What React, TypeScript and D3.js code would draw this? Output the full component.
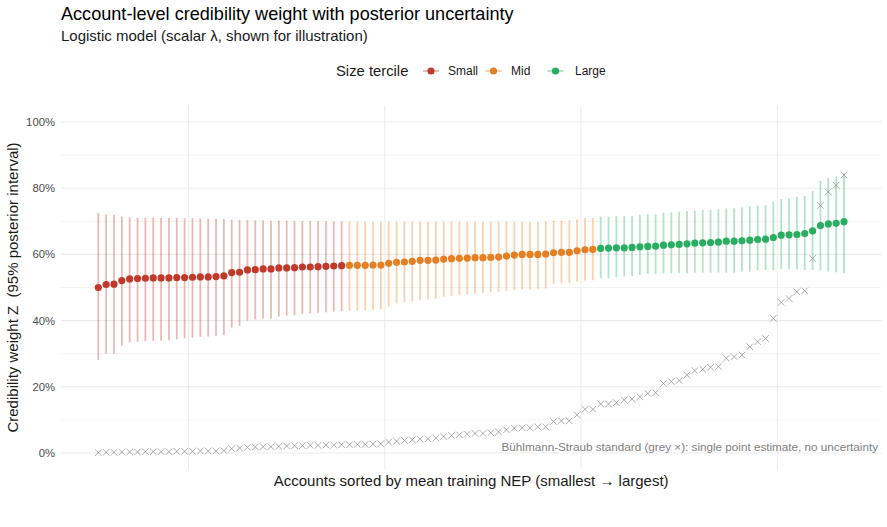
import React from "react";
import * as d3 from "d3";

// Posterior credibility weight per account, grouped by size tercile.
// Accounts are ordered by mean training NEP (smallest → largest).
const smallMean = [0.500, 0.509, 0.510, 0.521, 0.526, 0.527, 0.528, 0.529, 0.529, 0.529, 0.530, 0.530, 0.531, 0.532, 0.532, 0.533, 0.535, 0.545, 0.546, 0.553, 0.554, 0.556, 0.556, 0.559, 0.559, 0.560, 0.562, 0.562, 0.563, 0.564, 0.565, 0.566];
const smallLower = [0.281, 0.300, 0.300, 0.324, 0.334, 0.336, 0.337, 0.338, 0.339, 0.341, 0.343, 0.346, 0.348, 0.351, 0.352, 0.354, 0.356, 0.379, 0.384, 0.400, 0.403, 0.406, 0.406, 0.412, 0.415, 0.417, 0.420, 0.422, 0.424, 0.425, 0.427, 0.428];
const smallUpper = [0.725, 0.721, 0.720, 0.714, 0.712, 0.711, 0.711, 0.711, 0.710, 0.710, 0.710, 0.709, 0.709, 0.708, 0.708, 0.708, 0.707, 0.705, 0.704, 0.704, 0.703, 0.703, 0.702, 0.702, 0.702, 0.701, 0.701, 0.701, 0.700, 0.700, 0.700, 0.700];

const midMean = [0.567, 0.567, 0.567, 0.568, 0.568, 0.573, 0.576, 0.577, 0.579, 0.582, 0.582, 0.583, 0.586, 0.587, 0.588, 0.589, 0.590, 0.590, 0.591, 0.592, 0.595, 0.598, 0.600, 0.600, 0.600, 0.601, 0.605, 0.606, 0.606, 0.611, 0.614, 0.615];
const midLower = [0.429, 0.429, 0.432, 0.433, 0.434, 0.442, 0.452, 0.455, 0.459, 0.462, 0.464, 0.466, 0.472, 0.475, 0.477, 0.479, 0.482, 0.484, 0.485, 0.487, 0.489, 0.492, 0.494, 0.494, 0.496, 0.497, 0.510, 0.512, 0.514, 0.518, 0.521, 0.522];
const midUpper = [0.699, 0.699, 0.699, 0.699, 0.699, 0.699, 0.699, 0.699, 0.699, 0.699, 0.699, 0.699, 0.699, 0.699, 0.699, 0.699, 0.699, 0.699, 0.699, 0.699, 0.699, 0.699, 0.699, 0.699, 0.699, 0.700, 0.702, 0.702, 0.703, 0.706, 0.709, 0.710];

const largeMean = [0.618, 0.619, 0.620, 0.620, 0.621, 0.623, 0.624, 0.625, 0.628, 0.629, 0.630, 0.632, 0.634, 0.635, 0.636, 0.637, 0.640, 0.640, 0.641, 0.643, 0.645, 0.646, 0.651, 0.658, 0.659, 0.660, 0.663, 0.671, 0.687, 0.692, 0.694, 0.699];
const largeLower = [0.528, 0.528, 0.531, 0.533, 0.535, 0.538, 0.541, 0.541, 0.543, 0.543, 0.543, 0.543, 0.545, 0.545, 0.545, 0.545, 0.545, 0.545, 0.548, 0.548, 0.551, 0.553, 0.553, 0.555, 0.555, 0.555, 0.553, 0.553, 0.551, 0.548, 0.546, 0.543];
const largeUpper = [0.714, 0.714, 0.716, 0.716, 0.717, 0.719, 0.721, 0.721, 0.726, 0.727, 0.729, 0.731, 0.732, 0.734, 0.734, 0.736, 0.739, 0.739, 0.742, 0.746, 0.748, 0.749, 0.759, 0.767, 0.770, 0.774, 0.776, 0.792, 0.822, 0.832, 0.835, 0.845];

// Bühlmann-Straub credibility factor, one per account in the same order.
const bsStandard = [
  0.001, 0.002, 0.002, 0.003, 0.003, 0.003, 0.004, 0.004, 0.004, 0.004, 0.005, 0.005, 0.005, 0.006, 0.006, 0.006,
  0.007, 0.013, 0.015, 0.017, 0.018, 0.019, 0.019, 0.020, 0.021, 0.022, 0.022, 0.023, 0.023, 0.024, 0.024, 0.025,
  0.025, 0.026, 0.026, 0.027, 0.028, 0.033, 0.036, 0.038, 0.040, 0.042, 0.043, 0.045, 0.050, 0.053, 0.055, 0.057,
  0.059, 0.059, 0.061, 0.064, 0.070, 0.075, 0.076, 0.076, 0.079, 0.079, 0.095, 0.097, 0.097, 0.115, 0.132, 0.132,
  0.148, 0.148, 0.152, 0.160, 0.163, 0.170, 0.180, 0.182, 0.210, 0.216, 0.219, 0.236, 0.249, 0.253, 0.259, 0.261,
  0.286, 0.291, 0.296, 0.321, 0.336, 0.346, 0.407, 0.455, 0.467, 0.487, 0.490, 0.588, 0.748, 0.789, 0.809, 0.840,
];

const tercileNames = ["Small", "Mid", "Large"];
const tercileColors = ["#C0392B", "#E67E22", "#27AE60"];
const yTicks = [0, 0.2, 0.4, 0.6, 0.8, 1.0];
const yMinorTicks = [0.1, 0.3, 0.5, 0.7, 0.9];
const xMinorTicks = [12.5, 37.5, 62.5, 87.5];

type Account = { rank: number; tercile: number; mean: number; lower: number; upper: number; bs: number };

const groups = [
  { mean: smallMean, lower: smallLower, upper: smallUpper },
  { mean: midMean, lower: midLower, upper: midUpper },
  { mean: largeMean, lower: largeLower, upper: largeUpper },
];

const accounts: Account[] = [];
groups.forEach((g, t) => {
  g.mean.forEach((m, i) => {
    const rank = accounts.length + 1;
    accounts.push({ rank, tercile: t, mean: m, lower: g.lower[i], upper: g.upper[i], bs: bsStandard[rank - 1] });
  });
});

const W = 887;
const H = 527;
const FONT = "'Liberation Sans', Arial, Helvetica, sans-serif";

export default function App() {
  const n = accounts.length;
  const pad = (n - 1) * 0.05;
  const left = 61;
  const right = 881.3;
  const top = 105.45;
  const bottom = 469.55;

  const x = d3.scaleLinear().domain([1 - pad, n + pad]).range([left, right]);
  const y = d3.scaleLinear().domain([-0.05, 1.05]).range([bottom, top]);
  const pct = d3.format(".0%");

  const cross = 3.3;
  const gridColor = "#EBEBEB";

  // legend layout
  const legendY = 71;
  const legendItems = [
    { key: 431, label: 448 },
    { key: 493.5, label: 511 },
    { key: 555.5, label: 575 },
  ];

  return (
    <svg width={W} height={H} style={{ display: "block", position: "absolute", left: 0, top: 0 }} fontFamily={FONT}>
      <rect width={W} height={H} fill="#FFFFFF" />

      {/* grid */}
      {yMinorTicks.map((t) => (
        <line key={"ym" + t} x1={left} x2={right} y1={y(t)} y2={y(t)} stroke={gridColor} strokeWidth={0.6} />
      ))}
      {xMinorTicks.map((t) => (
        <line key={"xm" + t} x1={x(t)} x2={x(t)} y1={top} y2={bottom} stroke={gridColor} strokeWidth={1} />
      ))}
      {yTicks.map((t) => (
        <line key={"y" + t} x1={left} x2={right} y1={y(t)} y2={y(t)} stroke={gridColor} strokeWidth={1.1} />
      ))}

      {/* y tick labels */}
      {yTicks.map((t) => (
        <text key={"yl" + t} x={55} y={y(t)} dy="0.35em" textAnchor="end" fontSize={11.3} fill="#4D4D4D">
          {pct(t)}
        </text>
      ))}

      {/* posterior intervals */}
      {accounts.map((a) => (
        <line
          key={"iv" + a.rank}
          x1={x(a.rank)}
          x2={x(a.rank)}
          y1={y(a.lower)}
          y2={y(a.upper)}
          stroke={tercileColors[a.tercile]}
          strokeOpacity={0.35}
          strokeWidth={1.8}
        />
      ))}

      {/* Bühlmann-Straub point estimates */}
      {accounts.map((a) => {
        const cx = x(a.rank);
        const cy = y(a.bs);
        return (
          <path
            key={"bs" + a.rank}
            d={`M${cx - cross},${cy - cross}L${cx + cross},${cy + cross}M${cx - cross},${cy + cross}L${cx + cross},${cy - cross}`}
            stroke="#8C8C8C"
            strokeOpacity={0.8}
            strokeWidth={0.9}
            fill="none"
          />
        );
      })}

      {/* posterior means */}
      {accounts.map((a) => (
        <circle key={"pt" + a.rank} cx={x(a.rank)} cy={y(a.mean)} r={3.6} fill={tercileColors[a.tercile]} />
      ))}

      {/* annotation */}
      <text x={878} y={451} textAnchor="end" fontSize={11.7} fill="#808080">
        Bühlmann-Straub standard (grey ×): single point estimate, no uncertainty
      </text>

      {/* titles */}
      <text x={61} y={20} fontSize={18.1} fill="#000000">
        Account-level credibility weight with posterior uncertainty
      </text>
      <text x={61} y={41} fontSize={15} fill="#1A1A1A">
        Logistic model (scalar λ, shown for illustration)
      </text>

      {/* legend */}
      <text x={336} y={legendY} dy="0.35em" fontSize={14.8} fill="#1A1A1A">
        Size tercile
      </text>
      {legendItems.map((li, i) => (
        <g key={"lg" + i}>
          <line
            x1={li.key - 8}
            x2={li.key + 8}
            y1={legendY}
            y2={legendY}
            stroke={tercileColors[i]}
            strokeOpacity={0.35}
            strokeWidth={2}
          />
          <circle cx={li.key} cy={legendY} r={3.6} fill={tercileColors[i]} />
          <text x={li.label} y={legendY} dy="0.35em" fontSize={12} fill="#1A1A1A">
            {tercileNames[i]}
          </text>
        </g>
      ))}

      {/* axis titles */}
      <text x={(left + right) / 2} y={486} textAnchor="middle" fontSize={15} fill="#1A1A1A">
        Accounts sorted by mean training NEP (smallest → largest)
      </text>
      <text
        transform={`translate(18,${(top + bottom) / 2}) rotate(-90)`}
        textAnchor="middle"
        fontSize={15}
        fill="#1A1A1A"
        style={{ whiteSpace: "pre" }}
      >
        {"Credibility weight Z  (95% posterior interval)"}
      </text>
    </svg>
  );
}
